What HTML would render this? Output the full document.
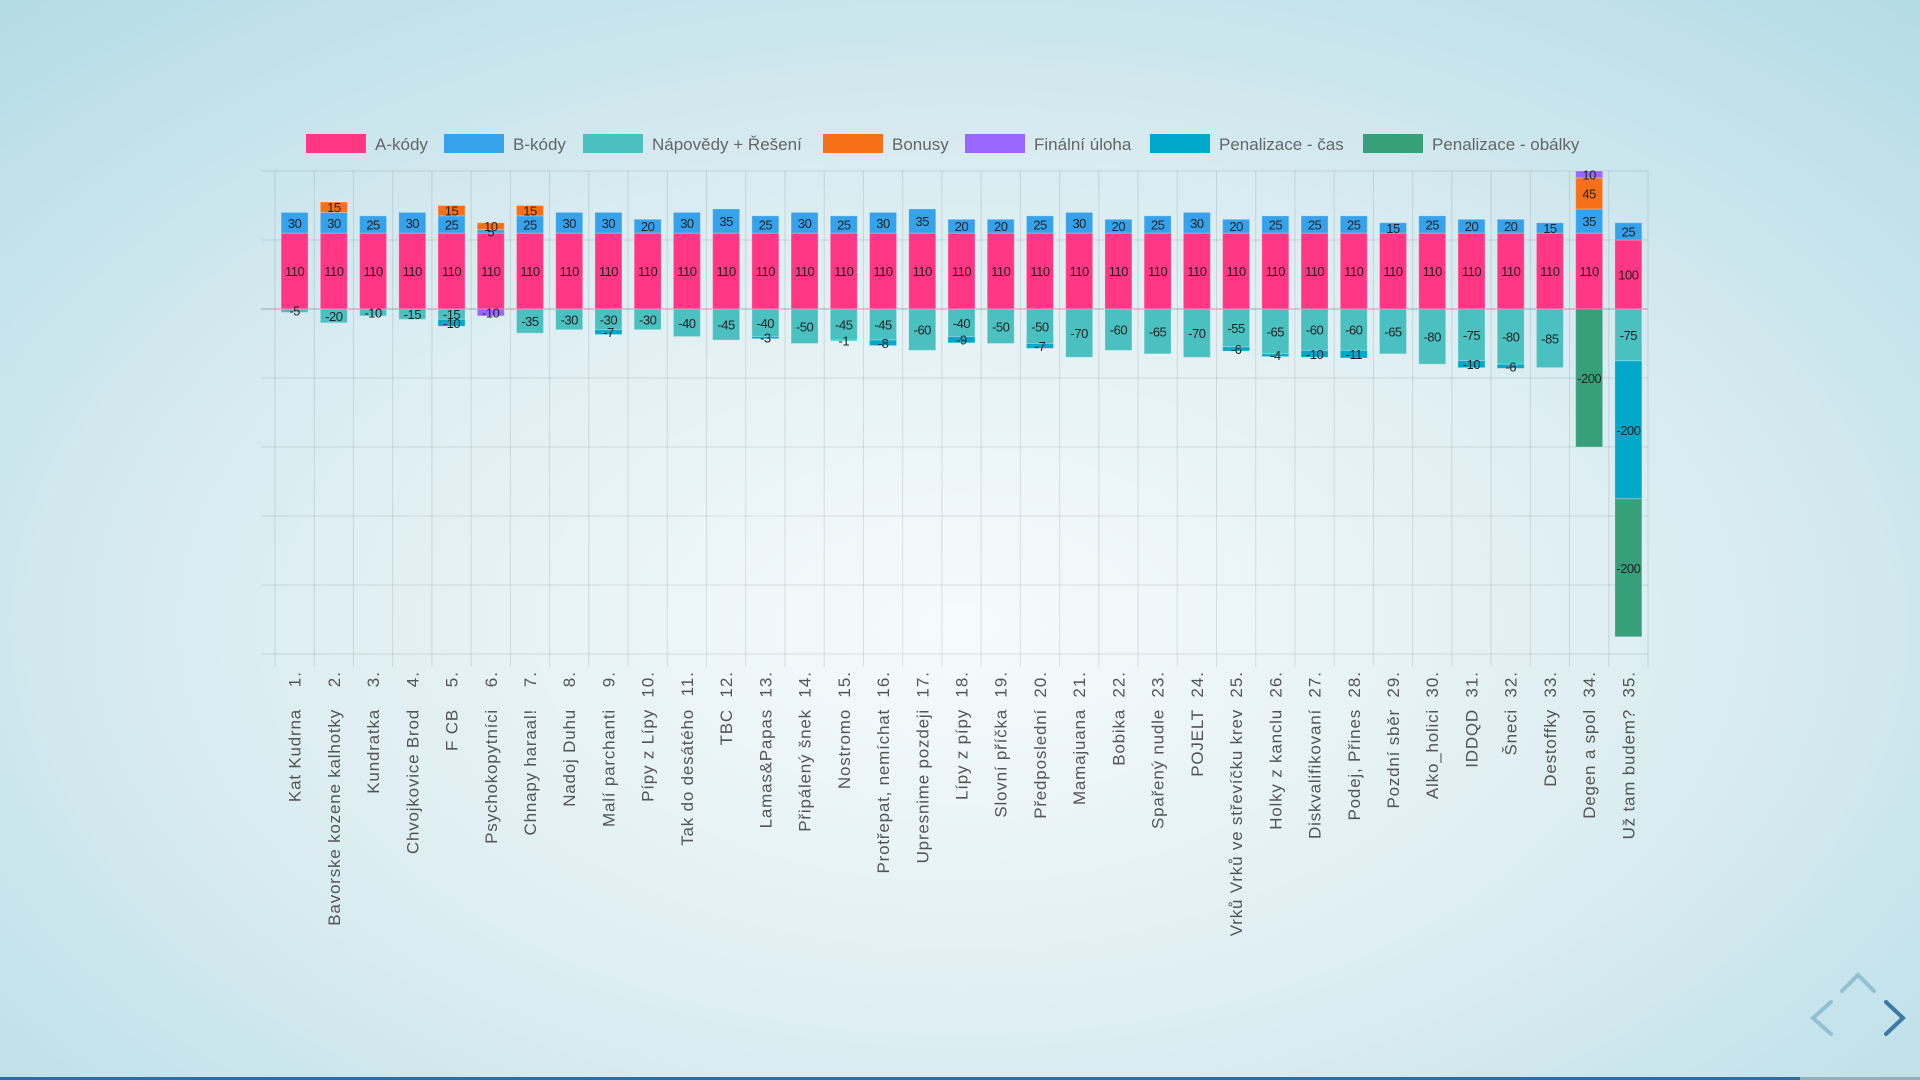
<!DOCTYPE html>
<html><head><meta charset="utf-8"><style>
html,body{margin:0;padding:0;width:1920px;height:1080px;overflow:hidden;}
body{background:radial-gradient(ellipse 75% 80% at 50% 58%, #f6fbfc 0%, #dcedf2 50%, #b2dbe5 100%);font-family:"Liberation Sans",sans-serif;}
svg{position:absolute;left:0;top:0;}
</style></head><body>
<svg id="chart" width="1920" height="1080" xmlns="http://www.w3.org/2000/svg">
<g id="legend"></g>
<g id="grid"></g>
<g id="bars"></g>
<g id="xlabels"></g>
<g>
<polyline points="1842,991 1858,975 1874,991" fill="none" stroke="#8fc3d4" stroke-width="4" stroke-linecap="round"/>
<polyline points="1831,1002 1813,1018 1831,1034" fill="none" stroke="#8fc3d4" stroke-width="4" stroke-linecap="round"/>
<polyline points="1886,1002 1903,1018 1886,1034" fill="none" stroke="#3b7aa6" stroke-width="4" stroke-linecap="round"/>
</g>
<rect x="0" y="1077" width="1920" height="3" fill="#8fb0bd"/>
<rect x="0" y="1077" width="1800" height="3" fill="#2a6f9f"/>
</svg>
<script>
const categories=["Kat Kudrna","Bavorske kozene kalhotky","Kundratka","Chvojkovice Brod","F CB","Psychokopytníci","Chnapy haraal!","Nadoj Duhu","Malí parchanti","Pípy z Lípy","Tak do desátého","TBC","Lamas&Papas","Připálený šnek","Nostromo","Protřepat, nemíchat","Upresnime pozdeji","Lípy z pípy","Slovní příčka","Předposlední","Mamajuana","Bobika","Spařený nudle","POJELT","Vrků Vrků ve střevíčku krev","Holky z kanclu","Diskvalifikovaní","Podej, Přines","Pozdní sběr","Alko_holici","IDDQD","Šneci","Destoffky","Degen a spol","Už tam budem?"];
const aKody=[110,110,110,110,110,110,110,110,110,110,110,110,110,110,110,110,110,110,110,110,110,110,110,110,110,110,110,110,110,110,110,110,110,110,100];
const bKody=[30,30,25,30,25,5,25,30,30,20,30,35,25,30,25,30,35,20,20,25,30,20,25,30,20,25,25,25,15,25,20,20,15,35,25];
const napovedy=[-5,-20,-10,-15,-15,0,-35,-30,-30,-30,-40,-45,-40,-50,-45,-45,-60,-40,-50,-50,-70,-60,-65,-70,-55,-65,-60,-60,-65,-80,-75,-80,-85,0,-75];
const bonusy=[0,15,0,0,15,10,15,0,0,0,0,0,0,0,0,0,0,0,0,0,0,0,0,0,0,0,0,0,0,0,0,0,0,45,0];
const finalni=[0,0,0,0,0,-10,0,0,0,0,0,0,0,0,0,0,0,0,0,0,0,0,0,0,0,0,0,0,0,0,0,0,0,10,0];
const penCas=[0,0,0,0,-10,0,0,0,-7,0,0,0,-3,0,-1,-8,0,-9,0,-7,0,0,0,0,-6,-4,-10,-11,0,0,-10,-6,0,0,-200];
const penObalky=[0,0,0,0,0,0,0,0,0,0,0,0,0,0,0,0,0,0,0,0,0,0,0,0,0,0,0,0,0,0,0,0,0,-200,-200];
const yTicks=[200,100,0,-100,-200,-300,-400,-500];
const seriesNames=["A-kódy","B-kódy","Nápovědy + Řešení","Bonusy","Finální úloha","Penalizace - čas","Penalizace - obálky"];
const seriesColors=["#ff3784","#36a2eb","#4bc0c0","#f67019","#9966ff","#00a9c9","#37a07a"];
const seriesData=[aKody,bKody,napovedy,bonusy,finalni,penCas,penObalky];

const NS="http://www.w3.org/2000/svg";
const L=275,R=1648,T=171,B=654,yMax=200,yMin=-500;
const y=v=>T+(yMax-v)*(B-T)/(yMax-yMin);
const bw=(R-L)/categories.length;
const x=i=>L+bw*(i+0.5);
function mk(tag,attrs,parent){const e=document.createElementNS(NS,tag);for(const k in attrs)e.setAttribute(k,attrs[k]);parent.appendChild(e);return e;}

const grid=document.getElementById('grid');
yTicks.forEach(t=>{const l=mk('line',{x1:261,x2:R,y1:y(t),y2:y(t),stroke:t===0?'rgba(0,0,0,0.28)':'rgba(0,0,0,0.1)','stroke-width':1},grid);

});
for(let i=0;i<=categories.length;i++){const gx=L+bw*i;const l=mk('line',{x1:gx,x2:gx,y1:T,y2:667,stroke:'rgba(0,0,0,0.1)','stroke-width':1},grid);

}

const bars=document.getElementById('bars');
const barW=27;
categories.forEach((c,i)=>{let pos=0,neg=0;
seriesData.forEach((arr,s)=>{const v=arr[i];if(!v)return;let v0,v1;
if(v>0){v0=pos;v1=pos+v;pos=v1;}else{v0=neg;v1=neg+v;neg=v1;}
const top=y(Math.max(v0,v1)),bot=y(Math.min(v0,v1));
const r=mk('rect',{x:x(i)-barW/2,y:top,width:barW,height:bot-top,fill:seriesColors[s],stroke:'rgba(255,255,255,0.25)','stroke-width':1},bars);


const t=mk('text',{x:x(i),y:(top+bot)/2+5,'text-anchor':'middle','font-size':13,fill:'#222','letter-spacing':'-0.5'},bars);
t.textContent=v;

});});

const xl=document.getElementById('xlabels');
categories.forEach((c,i)=>{const cx=x(i)+6;
const n=mk('text',{transform:`translate(${cx},671) rotate(-90)`,'text-anchor':'end','font-size':17,fill:'#555','letter-spacing':'1'},xl);
n.textContent=(i+1)+'.';


const t=mk('text',{transform:`translate(${cx},709) rotate(-90)`,'text-anchor':'end','font-size':17,fill:'#555','letter-spacing':'0.8'},xl);
t.textContent=c;

});

const lg=document.getElementById('legend');
const lx=[306,444,583,823,965,1150,1363];
seriesNames.forEach((nm,s)=>{const r=mk('rect',{x:lx[s],y:134,width:60,height:19,fill:seriesColors[s]},lg);


const t=mk('text',{x:lx[s]+69,y:150,'font-size':17,fill:'#666'},lg);
t.textContent=nm;

});
</script>
</body></html>
